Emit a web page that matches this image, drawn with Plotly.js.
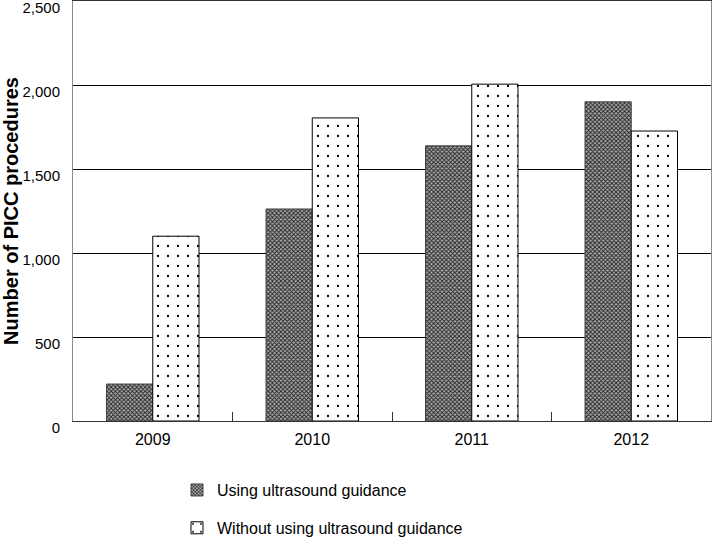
<!DOCTYPE html>
<html>
<head>
<meta charset="utf-8">
<script src="https://cdn.plot.ly/plotly-3.0.1.min.js"></script>
<style>
  html, body { margin: 0; padding: 0; background: #fff; }
  #chart { width: 713px; height: 539px; }
</style>
</head>
<body>
<div id="chart"></div>
<script>
// chart data
const years = ['2009', '2010', '2011', '2012'];
const with_ultrasound = [220, 1262, 1638, 1900];
const without_ultrasound = [1100, 1804, 2005, 1726];
const series_names = ['Using ultrasound guidance', 'Without using ultrasound guidance'];
const y_ticks = [0, 500, 1000, 1500, 2000, 2500];

const font_family = 'Liberation Sans, Arial, sans-serif';

const trace_using = {
    type: 'bar',
    name: series_names[0],
    x: years,
    y: with_ultrasound,
    legendgroup: 'a',
    marker: {
        color: '#777',
        line: { color: '#444', width: 1 },
        pattern: { shape: 'x', size: 3, solidity: 0.5, fgcolor: '#222', bgcolor: '#aaa' }
    }
};

const trace_without = {
    type: 'bar',
    name: series_names[1],
    x: years,
    y: without_ultrasound,
    legendgroup: 'b',
    marker: {
        color: '#fff',
        line: { color: '#000', width: 1 },
        pattern: { shape: '.', size: 10, solidity: 0.04, fgcolor: '#000', bgcolor: '#fff' }
    }
};

const layout = {
    width: 713,
    height: 539,
    margin: { l: 73, r: 2, t: 1, b: 118, autoexpand: false },
    paper_bgcolor: '#fff',
    plot_bgcolor: '#fff',
    font: { family: font_family, size: 16, color: '#000' },
    bargap: 0.42,
    bargroupgap: 0,
    barmode: 'group',
    showlegend: true,
    legend: {
        orientation: 'v',
        x: 0.163, xanchor: 'left',
        y: -0.124, yanchor: 'top',
        traceorder: 'grouped',
        tracegroupgap: 14,
        font: { size: 16 },
        bgcolor: 'rgba(0,0,0,0)'
    },
    xaxis: {
        type: 'category',
        showline: true,
        linecolor: '#333',
        linewidth: 1,
        mirror: true,
        ticks: 'inside',
        tickson: 'boundaries',
        ticklen: 9,
        tickcolor: '#333',
        showgrid: false,
        ticklabelstandoff: 4,
        tickfont: { size: 16 }
    },
    yaxis: {
        range: [0, 2500],
        tickvals: y_ticks,
        tickformat: ',d',
        showline: true,
        linecolor: '#888',
        linewidth: 1,
        mirror: true,
        ticks: '',
        showgrid: true,
        gridcolor: '#000',
        gridwidth: 1,
        zeroline: false,
        ticklabelshift: 7,
        ticklabelstandoff: 9,
        ticklabeloverflow: 'allow',
        tickfont: { size: 15 },
        title: {
            text: '<b>Number of PICC procedures</b>',
            font: { size: 20 },
            standoff: 2
        }
    }
};

Plotly.newPlot('chart', [trace_using, trace_without], layout, { staticPlot: true });
</script>
</body>
</html>
